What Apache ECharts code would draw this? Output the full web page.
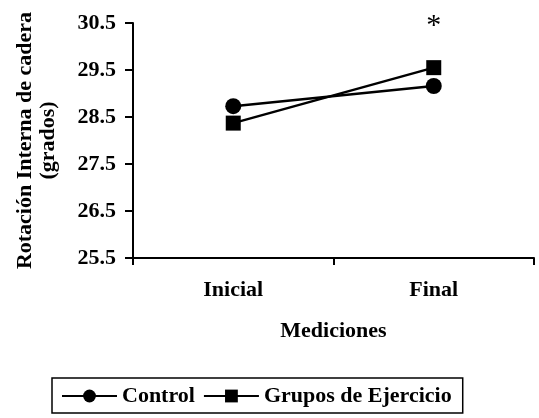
<!DOCTYPE html>
<html>
<head>
<meta charset="utf-8">
<script src="https://cdn.jsdelivr.net/npm/echarts@6/dist/echarts.min.js"></script>
<style>html,body{margin:0;padding:0;background:#fff}#c{width:539px;height:418px}</style>
</head>
<body>
<div id="c"></div>
<script>
const categories = ['Inicial', 'Final'];
const controlValues = [28.73, 29.16];
const ejercicioValues = [28.37, 29.55];
const significance = ['', '*'];
const yTicks = [25.5, 26.5, 27.5, 28.5, 29.5, 30.5];
const seriesNames = ['Control', 'Grupos de Ejercicio'];

const FONT = 'Liberation Serif';
const FS = 22;
const chart = echarts.init(document.getElementById('c'), null, {renderer: 'canvas'});
chart.setOption({
  backgroundColor: '#fff',
  animation: false,
  grid: {left: 133, right: 5, top: 23, bottom: 160, containLabel: false},
  legend: {
    data: seriesNames,
    left: 52, top: 378,
    padding: [7, 11, 6, 9],
    itemGap: 8,
    itemWidth: 55, itemHeight: 16,
    borderColor: '#000', borderWidth: 1.5,
    textStyle: {fontFamily: FONT, fontWeight: 'bold', fontSize: FS, color: '#000'}
  },
  xAxis: {
    type: 'category',
    data: categories,
    boundaryGap: true,
    name: 'Mediciones',
    nameLocation: 'middle',
    nameGap: 62,
    nameTextStyle: {fontFamily: FONT, fontWeight: 'bold', fontSize: FS, color: '#000'},
    axisLine: {lineStyle: {color: '#000', width: 2}},
    axisTick: {show: true, inside: false, length: 7, lineStyle: {color: '#000', width: 2}},
    axisLabel: {fontFamily: FONT, fontWeight: 'bold', fontSize: FS, color: '#000', margin: 21},
    splitLine: {show: false}
  },
  yAxis: {
    type: 'value',
    min: 25.5, max: 30.5,
    name: 'Rotación Interna de cadera\n(grados)',
    nameLocation: 'middle',
    nameGap: 73,
    nameRotate: 90,
    nameTextStyle: {fontFamily: FONT, fontWeight: 'bold', fontSize: FS, color: '#000', lineHeight: 23, align: 'center'},
    axisLine: {show: true, lineStyle: {color: '#000', width: 2}},
    axisTick: {show: true, inside: false, length: 8, customValues: yTicks, lineStyle: {color: '#000', width: 2}},
    axisLabel: {fontFamily: FONT, fontWeight: 'bold', fontSize: FS, color: '#000', margin: 17,
      customValues: yTicks, formatter: v => v.toFixed(1)},
    splitLine: {show: false}
  },
  series: [
    {
      name: seriesNames[0], type: 'line', data: controlValues,
      symbol: 'circle', symbolSize: 16,
      itemStyle: {color: '#000'},
      lineStyle: {color: '#000', width: 2.5}
    },
    {
      name: seriesNames[1], type: 'line', data: ejercicioValues,
      symbol: 'rect', symbolSize: 15,
      itemStyle: {color: '#000'},
      lineStyle: {color: '#000', width: 2.5},
      label: {
        show: true, position: 'top', distance: 19,
        formatter: p => significance[p.dataIndex],
        fontFamily: FONT, fontSize: 30, color: '#000'
      }
    }
  ]
});
</script>
</body>
</html>
